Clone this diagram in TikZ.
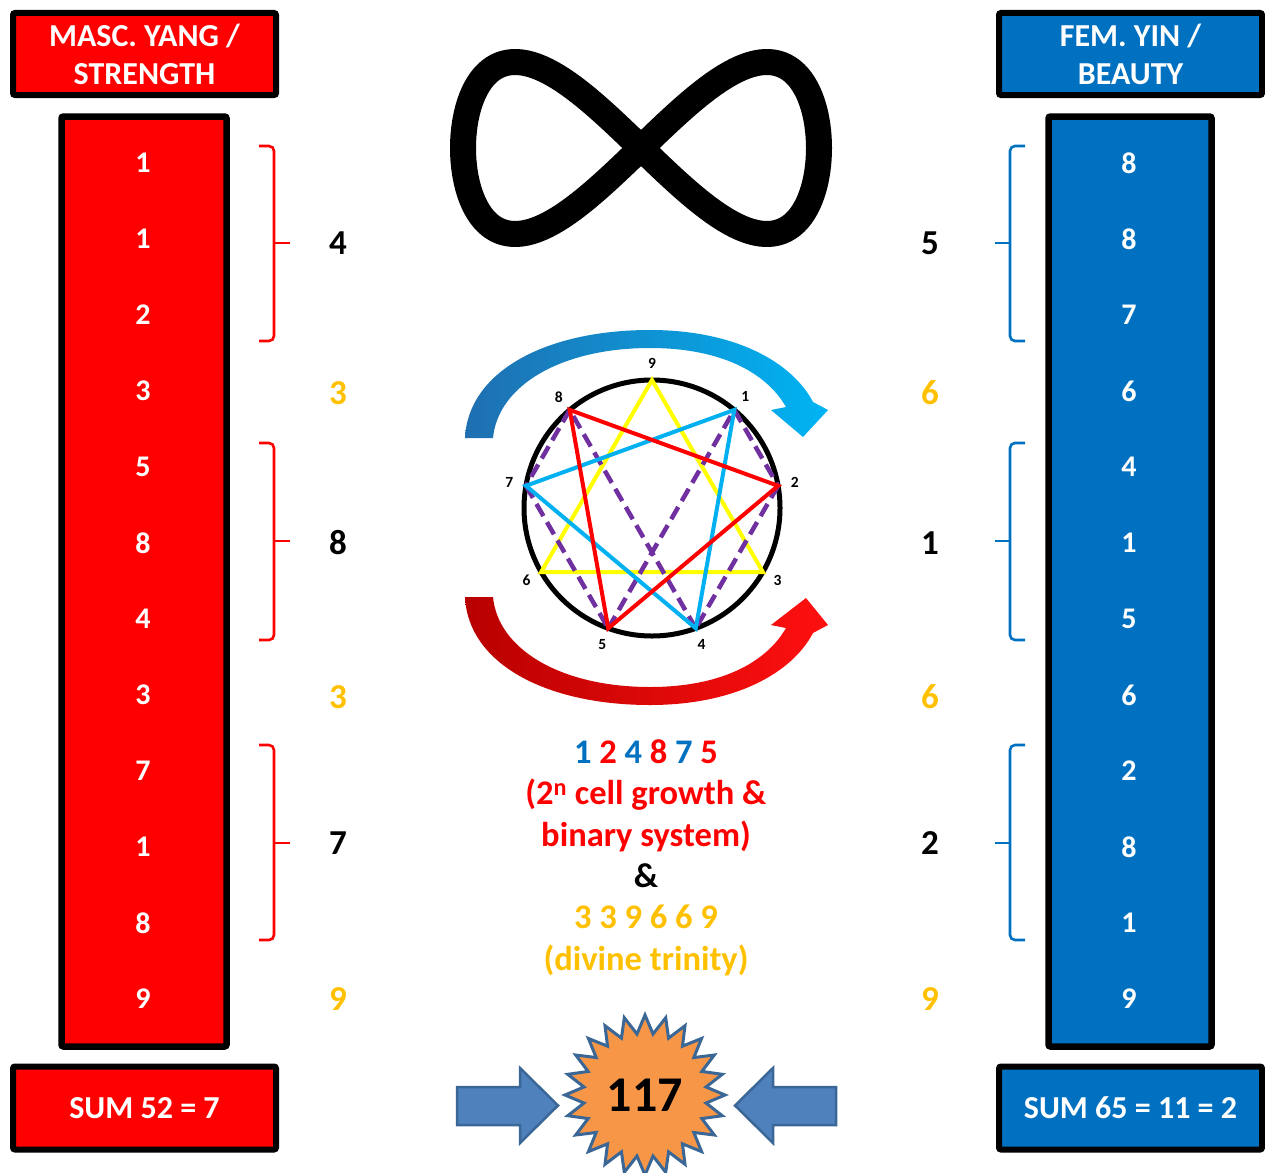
\documentclass[tikz,border=0pt]{standalone}
\usepackage{fontspec}
\setmainfont{Carlito}
\usetikzlibrary{shapes.geometric}
\definecolor{myred}{HTML}{FF0000}
\definecolor{myblue}{HTML}{0070C0}
\definecolor{gold}{HTML}{FFC000}
\definecolor{lblue}{HTML}{00B0F0}
\definecolor{purp}{HTML}{7030A0}
\definecolor{yel}{HTML}{FFFF00}
\definecolor{orng}{HTML}{F79646}
\definecolor{sblue}{HTML}{4F81BD}
\definecolor{sborder}{HTML}{3A6796}
\definecolor{arrBL}{HTML}{1F6FB0}
\definecolor{arrBR}{HTML}{00B4F4}
\definecolor{arrRL}{HTML}{B80000}
\definecolor{arrRR}{HTML}{FF1010}
\begin{document}
\begin{tikzpicture}[x=1pt,y=-1pt,
  hbox/.style={draw=black, line width=6pt, rounded corners=2pt, align=center, text=white, inner sep=0pt,
    minimum width=263pt, font=\fontsize{32}{38}\selectfont\bfseries},
  colbox/.style={draw=black, line width=6.5pt, rounded corners=2pt, minimum height=930pt, inner sep=0pt},
  colnum/.style={text=white, font=\fontsize{30}{30}\selectfont\bfseries, inner sep=0pt},
  sidenum/.style={font=\fontsize{35}{35}\selectfont\bfseries, inner sep=0pt},
  ctext/.style={font=\fontsize{34.5}{34.5}\selectfont\bfseries, inner sep=0pt, anchor=base},
  lbr/.style={draw=myred, line width=2.6pt, rounded corners=5pt},
  rbr/.style={draw=myblue, line width=2.6pt, rounded corners=5pt},
  enn/.style={line width=4pt, line cap=round},
  elabel/.style={font=\fontsize{15.5}{15.5}\selectfont\bfseries, inner sep=0pt},
  blockarrow/.style={fill=sblue, draw=sborder, line width=2.5pt, line join=miter}
]
\useasboundingbox (0,0) rectangle (1265,1172);

% ---------- headers ----------
\node[hbox, fill=myred, minimum height=82pt] (lhead) at (144.5,54) {MASC. YANG /\\STRENGTH};
\node[hbox, fill=myblue, minimum height=82pt] (rhead) at (1130.5,54) {FEM. YIN /\\BEAUTY};

% ---------- columns ----------
\node[colbox, fill=myred, minimum width=165pt] (lcol) at (144,581.5) {};
\node[colbox, fill=myblue, minimum width=163pt] (rcol) at (1130,581.5) {};

\foreach \v [count=\i] in {1,1,2,3,5,8,4,3,7,1,8,9}
  \node[colnum] (L\i) at (143,{163+76*(\i-1)}) {\v};
\foreach \v [count=\i] in {8,8,7,6,4,1,5,6,2,8,1,9}
  \node[colnum] (R\i) at (1129,{163+76*(\i-1)}) {\v};

% ---------- sum boxes ----------
\node[hbox, fill=myred, minimum height=83pt] (lsum) at (144.5,1108) {SUM 52 = 7};
\node[hbox, fill=myblue, minimum height=83pt] (rsum) at (1130.5,1108) {SUM 65 = 11 = 2};

% ---------- brackets ----------
\foreach \t/\b/\m in {146/341/243, 443/640/541, 745/940/843}{
  \draw[lbr] (259,\t) -- (274,\t) -- (274,\b) -- (259,\b);
  \draw[lbr] (274,\m) -- (290,\m);
  \draw[rbr] (1025,\t) -- (1010,\t) -- (1010,\b) -- (1025,\b);
  \draw[rbr] (1010,\m) -- (995,\m);
}

% ---------- side numbers ----------
\node[sidenum, text=black] (ls1) at (338,243) {4};
\node[sidenum, text=gold]  (ls2) at (338,393) {3};
\node[sidenum, text=black] (ls3) at (338,543) {8};
\node[sidenum, text=gold]  (ls4) at (338,697) {3};
\node[sidenum, text=black] (ls5) at (338,843) {7};
\node[sidenum, text=gold]  (ls6) at (338,999) {9};
\node[sidenum, text=black] (rs1) at (930,243) {5};
\node[sidenum, text=gold]  (rs2) at (930,393) {6};
\node[sidenum, text=black] (rs3) at (930,543) {1};
\node[sidenum, text=gold]  (rs4) at (930,697) {6};
\node[sidenum, text=black] (rs5) at (930,843) {2};
\node[sidenum, text=gold]  (rs6) at (930,999) {9};

% ---------- infinity ----------
\draw[line width=26pt, line join=round]
  plot[domain=0:360, samples=181, variable=\t] ({641+178*cos(\t)},{148+86*sin(2*\t)}) -- cycle;

% ---------- curved arrows ----------
\shade[left color=arrBL, right color=arrBR]
  (465,438) .. controls (468,372) and (545,330) .. (650,330)
  .. controls (735,330) and (792,362) .. (813,402)
  -- (828,410) -- (803,437) -- (771,410) -- (786,407)
  .. controls (766,372) and (720,348) .. (650,348)
  .. controls (562,348) and (498,385) .. (493,438) -- cycle;
\shade[left color=arrRL, right color=arrRR]
  (465,597) .. controls (468,663) and (545,705) .. (650,705)
  .. controls (735,705) and (792,673) .. (813,633)
  -- (828,625) -- (806,598) -- (771,625) -- (786,628)
  .. controls (766,663) and (720,687) .. (650,687)
  .. controls (562,687) and (498,650) .. (493,597) -- cycle;

% ---------- enneagram ----------
\coordinate (C) at (652,508);
\begin{scope}[shift={(652,508)}]
  \foreach \k in {1,...,9}{
    \coordinate (p\k) at ({40*\k-90}:128);
    \node[elabel] (n\k) at ({40*\k-90}:145) {\k};
  }
\end{scope}
\draw[line width=5pt] (C) circle (128);
\draw[enn, yel] (p9) -- (p3) -- (p6) -- cycle;
\draw[enn, purp, dash pattern=on 14pt off 7pt, line cap=butt, line width=4.5pt]
  (p1) -- (p2) (p2) -- (p4) (p4) -- (p8) (p8) -- (p7) (p7) -- (p5) (p5) -- (p1);
\draw[enn, lblue] (p1) -- (p7) -- (p4) -- cycle;
\draw[enn, myred] (p8) -- (p2) -- (p5) -- cycle;

% ---------- centre text ----------
\node[ctext] (seq) at (646,763) {\textcolor{myblue}{1} \textcolor{myred}{2} \textcolor{myblue}{4} \textcolor{myred}{8} \textcolor{myblue}{7} \textcolor{myred}{5}};
\node[ctext, text=myred] (cg) at (646,804.5) {(2\textsuperscript{n} cell growth \&};
\node[ctext, text=myred] (bs) at (646,846) {binary system)};
\node[ctext, text=black] (amp) at (646,887) {\&};
\node[ctext, text=gold] (dt) at (646,928.5) {3 3 9 6 6 9};
\node[ctext, text=gold] (dtt) at (646,970) {(divine trinity)};

% ---------- bottom ----------
\draw[blockarrow] (457,1087) -- (520,1087) -- (520,1068) -- (558,1105.5) -- (520,1143) -- (520,1125) -- (457,1125) -- cycle;
\draw[blockarrow] (836,1087) -- (773,1087) -- (773,1068) -- (735,1105.5) -- (773,1143) -- (773,1125) -- (836,1125) -- cycle;
\node[star, star points=24, star point ratio=1.3, minimum size=160pt, inner sep=0pt,
  fill=orng, draw=sborder, line width=3pt, font=\fontsize{50}{50}\selectfont\bfseries] (burst) at (645,1095) {117};
\end{tikzpicture}
\end{document}
